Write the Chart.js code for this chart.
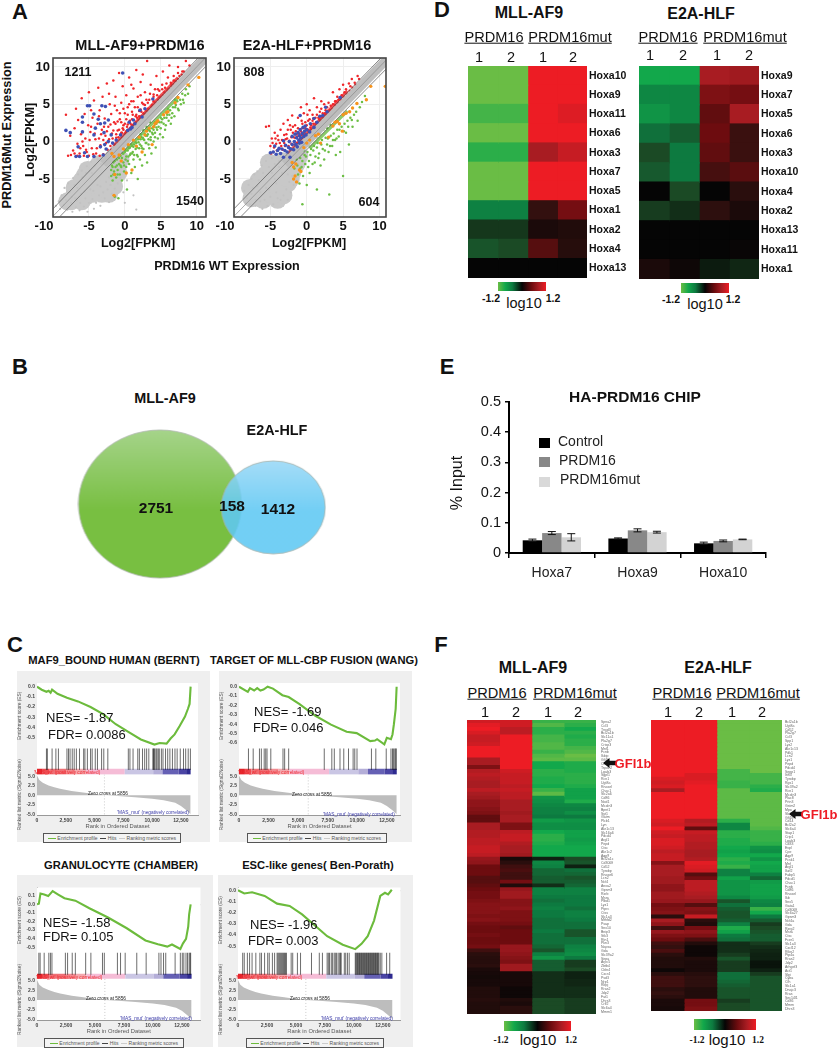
<!DOCTYPE html>
<html>
<head>
<meta charset="utf-8">
<script src="https://cdn.jsdelivr.net/npm/chart.js@4"></script>
<style>
html,body{margin:0;padding:0;background:#fff}
body{position:relative;width:839px;height:1050px;overflow:hidden;font-family:"Liberation Sans",Arial,sans-serif;color:#111}
canvas{position:absolute;display:block}
</style>
</head>
<body>
<script>
// ---- panel A, values as [wt, mut] log2 pairs
const volcanoTicksX = [-10,-5,0,5,10];
const volcanoTicksY = [-5,0,5,10];
const diagonal = [[-10,-10],[11.2,11.2]];
const upperGuide = [[-10,-9],[10.2,11.2]];
const lowerGuide = [[-9,-10],[11.2,10]];
const denseBand = [[-3,-3],[11.2,11.2]];
const a1RedEdge = [[-1.6,-0.6],[7.4,8.6]];
const a1GreenEdge = [[0,-1.3],[7.4,5.9]];
const a2RedEdge = [[-2.6,-1.6],[5.6,6.8]];
const a2GreenEdge = [[0.4,-0.9],[5.6,4.1]];

const a1Core = [[-7,-7],[-5.8,-6.2],[-5,-5],[-4,-5],[-3.8,-3.8],[-3,-4.4],[-2.8,-3],[-2,-3.2],[-1.6,-2.2],[-7.5,-8],[-7,-6.2],[-6.5,-7.5],[-6,-5.2],[-5.5,-7.4],[-5,-6.5],[-4.5,-7],[-4.5,-3.8],[-3.5,-5.8],[-3,-2.9],[-2.5,-6],[-2.5,-4.2],[-1.5,-4.6],[-1.2,-3.2],[-0.6,-2.4],[-8,-8],[-1.5,-6],[-6,-8],[-4,-6.2],[-3.2,-7],[-5.2,-3.8],[-6.4,-6.4],[-4.6,-5.8],[-2,-5],[-3.6,-3],[-5.6,-4.6],[-0.9,-4.2],[-2.2,-7]];
const a1Gray = [[-9.6,-8.6],[-9.2,-8],[-9,-9],[-8.8,-7.2],[-8.5,-8.5],[-8.4,-6.2],[-8.2,-7.8],[-8,-9.1],[-7.9,-5.6],[-7.7,-6.8],[-7.5,-8.2],[-7.3,-9.4],[-7.2,-4.9],[-7,-5.8],[-6.8,-8.8],[-6.7,-7.9],[-6.5,-4.4],[-6.3,-9.2],[-6.2,-8.2],[-6,-3.9],[-5.9,-4.8],[-5.7,-8.7],[-5.5,-7.6],[-5.3,-3.3],[-5.2,-9.4],[-5,-8.2],[-4.9,-3.9],[-4.7,-2.7],[-4.5,-7.7],[-4.3,-9],[-4.2,-3.2],[-4,-8.2],[-3.8,-2.4],[-3.6,-7.2],[-3.4,-8.6],[-3.2,-2.6],[-3,-6.8],[-2.8,-7.6],[-2.6,-2.2],[-2.4,-6.4],[-2.2,-8.1],[-2,-5.8],[-1.8,-7],[-1.6,-5],[-1.4,-6.3],[-1.2,-4.4],[-1,-5.6],[-0.8,-3.8],[-0.6,-4.9],[-0.4,-3.2],[-0.2,-6.8],[0,-8.2],[0.3,-5.2],[1.2,-7.2],[1.6,-9.1],[-8,-6.8],[-6.6,-6.2],[-6.1,-7],[-5.6,-6.7],[-4.8,-6.4],[-4.4,-6.6],[-3.8,-5.8],[-3.4,-6],[-2.6,-5.4],[-2.2,-4.8],[-1.5,-3.8],[-1,-3],[-7.4,-7.4],[-6.9,-7.6],[-5.4,-4.2],[-4.6,-4.2],[-3.3,-3],[-2.4,-2.6],[-1.2,-2.4]];
const a1Red = [[-8.2,3.6],[-7.6,0.8],[-7.2,-1.2],[-7,1.8],[-6.8,4.4],[-6.6,-0.3],[-6.5,2.9],[-6.3,-1.6],[-6.1,1],[-6,5.8],[-5.8,-0.6],[-5.6,3.7],[-5.5,0.4],[-5.3,-1.4],[-5.1,2.2],[-5,6.6],[-4.8,1.3],[-4.6,-0.9],[-4.5,3.2],[-4.3,5.5],[-4.1,0.3],[-4,-1.6],[-3.8,2.4],[-3.7,7.2],[-3.5,4.2],[-3.4,-0.5],[-3.2,1.6],[-3.1,6],[-3,-1.7],[-2.8,3.1],[-2.7,0.8],[-2.5,7.8],[-2.4,-1.1],[-2.3,2],[-2.1,5],[-2,-0.6],[-1.9,3.7],[-1.8,1.1],[-1.7,-1.4],[-1.6,8.2],[-1.5,2.6],[-1.4,-0.4],[-1.3,6],[-1.2,0.5],[-1.1,4.2],[-1,1.5],[-0.9,-0.7],[-0.8,9.2],[-0.7,3],[-0.6,0.2],[-0.5,5.2],[-0.4,1.2],[-0.3,7.4],[-0.2,2.2],[-0.1,0.5],[0,3.8],[0.1,1.2],[0.2,6.2],[0.3,2],[0.4,4.6],[0.5,1.5],[0.6,8.6],[0.7,2.8],[0.8,1.8],[0.9,5.4],[1,2.2],[1.1,3.6],[1.2,7.1],[1.3,2.4],[1.4,4.6],[1.5,2.6],[1.6,9.6],[1.7,3.2],[1.8,6],[1.9,2.9],[2,4.1],[2.1,3.2],[2.2,8],[2.3,3.4],[2.4,5.2],[2.6,3.8],[2.8,6.6],[3,4.1],[3.1,10.8],[3.2,5.2],[3.4,4.4],[3.6,7.6],[3.8,4.9],[4,6],[4.2,5.2],[4.4,8.8],[4.6,5.6],[4.8,6.8],[5,6],[5.3,9.4],[5.5,6.6],[5.8,7.8],[6,7],[6.2,10.2],[6.5,7.6],[6.8,8.8],[7,8.1],[7.4,10],[7.6,8.8],[8,9.4],[8.5,10.8],[9,10.2],[-1.9,-1.1],[-1.5,-0.9],[-1.2,-0.8],[-0.9,-0.2],[-0.6,-0.1],[-0.4,0.5],[-0.1,0.6],[0.2,1],[0.5,1.2],[0.8,1.5],[1.1,1.8],[1.4,2.2],[1.7,2.5],[2,2.8],[2.3,3],[2.6,3.3],[2.9,3.7],[3.2,4],[3.5,4.2],[3.8,4.6],[4.1,4.9],[4.4,5.2],[4.7,5.5],[5,5.8],[5.3,6.2],[5.6,6.5],[5.9,6.8],[6.2,7.1],[6.5,7.4],[6.8,7.7],[7.1,8.1],[7.4,8.4],[-0.2,1.6],[0.4,2.3],[1,3],[1.6,3.6],[2.2,4.3],[2.8,4.9],[3.4,5.6],[4,6.3],[4.6,7],[5.2,7.6],[-7.9,-1.9],[-7.5,-1.8],[-7,-1.6],[-6.6,-1.9],[-6.2,-0.9],[-5.9,0],[-5.7,-1.9],[-5.4,-1.1],[-5,-1.9],[-4.9,0.2],[-4.7,2],[-4.4,-1.7],[-4.2,1.1],[-3.9,-0.9],[-3.6,0.4],[-3.5,-1.9],[-3.3,1],[-3,0.2],[-2.9,2],[-2.6,-0.2],[-2.5,1.4],[-2.2,0.3],[-2.1,-1.6],[-2,2.3],[-1.9,-1.8],[-1.7,0.4],[-1.6,1.5],[-1.4,-1.6],[-1.3,2.4],[-1.2,1],[-1,2.7],[-1,-0.6],[-0.9,0.6],[-0.8,1.6],[-0.7,3.8],[-0.5,1.2],[-0.5,2.6],[-0.3,0],[-0.3,1.8],[-0.2,4.4],[0,2.4],[0,1],[0.2,3],[0.2,1.4],[0.4,3.6],[0.6,1.5],[0.6,5],[0.8,2.4],[1,4],[1.2,2.1],[1.2,5.4],[1.5,3.4],[1.6,2.2],[1.8,4.6],[2,3.4],[2.2,6.2],[2.3,4],[2.6,5],[2.8,3.6],[3,5.6],[3.2,4.4],[3.5,6.4],[3.7,4.7],[4,5.4],[4.2,7],[4.5,6.2],[4.8,5.9],[5.2,7],[5.6,7.2],[6,8.6],[6.4,7.9],[6.8,8.2],[7.4,9.2],[7.9,9],[8.2,9.4],[2.5,9],[-1.4,4.8],[-2.2,6.4],[-3.6,3.4],[-4.7,4.2],[0.9,7.6]];
const a1Blue = [[-0.3,9.2],[-5.2,4.8],[-4.9,4.8],[-8.2,1.5],[-7.6,1.2],[-5.9,3.3],[-5.9,2.6],[-3.2,4.8],[-2.7,4.7],[-3.7,3],[-4.3,3.7],[-5.9,1.3],[-4.3,0.9],[-4.1,1.8],[-3.4,2.4],[-2.8,2.5],[-2.3,2.9],[-6.5,-0.7],[-6.8,-2],[-6.3,-2],[-5.6,-1.5],[-4.3,-2],[-3,-1.8],[-2.8,-0.4],[-2.3,0],[-1.9,0.9],[-1.2,0.2],[-2.6,-1],[-1.7,-0.2],[0.6,2.6],[1.2,2.9],[2.1,4.2],[2.8,4.4],[3.9,5.7],[0.4,1.5],[0.8,1.7],[1,1.9],[1.4,2.4],[-0.6,0.9],[-3.4,-0.7],[-2.9,1.2],[-5.2,-2],[2.4,3.3]];
const a1Green = [[-1.9,-3.8],[-1.9,-4.6],[-1.8,-3.2],[-1.7,-5.2],[-1.6,-2.8],[-1.5,-4],[-1.4,-7.4],[-1.3,-3.4],[-1.2,-4.8],[-1.1,-2.4],[-1,-3.8],[-0.9,-7.6],[-0.8,-3],[-0.7,-4.4],[-0.6,-1.9],[-0.5,-3.4],[-0.4,-5.2],[-0.3,-1.6],[-0.2,-2.8],[-0.1,-4],[0,-1.4],[0.1,-2.4],[0.2,-3.4],[0.3,-6.4],[0.4,-1.2],[0.5,-2],[0.6,-3],[0.7,-0.8],[0.8,-1.6],[0.9,-4.2],[1,-0.6],[1.1,-1.4],[1.2,-2.4],[1.3,-0.4],[1.4,-3.4],[1.5,-1],[1.6,-0.2],[1.7,-1.8],[1.8,-5],[1.9,-0.1],[2,-0.9],[2.1,-2.4],[2.2,0.3],[2.3,-0.6],[2.4,-3.2],[2.5,0.5],[2.6,-1],[2.7,0.2],[2.8,-1.8],[2.9,0.8],[3,-0.2],[3.1,-2.8],[3.2,1],[3.3,0.3],[3.4,-0.9],[3.5,1.4],[3.6,0.6],[3.7,-1.6],[3.8,1.8],[3.9,1],[4,0],[4.1,2.1],[4.2,1.2],[4.3,-0.8],[4.4,2.4],[4.5,1.6],[4.6,0.4],[4.8,2.6],[5,1.8],[5.2,3],[5.3,0.6],[5.5,3.2],[5.7,2.2],[5.9,3.6],[6.1,2.8],[6.3,4.2],[6.5,3.2],[6.7,4.6],[6.9,3.4],[7.1,4.9],[7.3,5.4],[7.5,4.2],[7.7,5.6],[8,6.4],[8.2,5.2],[8.5,7],[8.8,6.4],[-0.5,-0.8],[0,-0.3],[0.5,0.1],[1,0.5],[1.5,1],[2,1.4],[2.5,1.6],[3,2],[3.5,2.6],[-1.7,-3.4],[-1.6,-4.4],[-1.4,-2.6],[-1.1,-3.2],[-1,-4.4],[-0.8,-2.2],[-0.6,-3.2],[-0.4,-2.2],[-0.2,-1.6],[-0.1,-3.2],[0.1,-1.2],[0.2,-2],[0.4,-2.6],[0.6,-0.9],[0.7,-1.8],[0.9,-0.4],[1,-1.6],[1.2,-0.7],[1.3,-1.8],[1.5,-0.1],[1.7,-0.8],[1.8,-2],[1.9,0.3],[2.1,-0.4],[2.3,0.6],[2.4,-0.9],[2.6,0.3],[2.8,1],[2.9,-0.2],[3.1,0.8],[3.3,-0.4],[3.4,1.6],[3.6,0.2],[3.8,1.2],[4,1.6],[4.2,0.6],[4.4,1.9],[4.7,2],[4.9,1],[5.1,2.6],[5.4,2.4],[5.6,1.6],[5.8,3.2],[6.2,3.6],[6.4,2.4],[6.6,3.8],[7,4.6],[7.4,4.4],[7.8,5],[8.1,5.6],[8.4,6.2],[9,7.4],[0.3,-0.5],[1.2,0.2],[2.2,1],[3.2,1.6],[4.2,2.6],[5,3.2],[6,4.4],[7,5.6]];
const a1Orange = [[-1.8,-1.6],[-1.4,-4.4],[-1.5,-2],[-0.8,-1.8],[-0.5,-2.6],[-0.2,-1],[0.2,-4.2],[0.5,-0.4],[1,-3.8],[1.2,0.2],[1.6,-0.6],[2,0.6],[2.4,-1.4],[2.8,0.9],[3,1.4],[3.4,1.8],[3.8,-0.4],[4,2],[4.2,2.4],[4.4,2.6],[4.6,2.8],[5.4,3.6],[5.8,3.9],[6,4],[7,5.2],[7.4,5.9],[8.8,7.6],[10.3,8.6],[-1.5,-7.2]];

const a2Core = [[-7,-7],[-6,-6.4],[-5,-5.4],[-4.2,-4.2],[-3.6,-5],[-3,-3.6],[-2.4,-3],[-1.8,-2.4],[-3.2,-6],[-5.4,-6.8],[-7.6,-7.6],[-6.6,-5.2],[-6,-7.8],[-5,-7],[-4.6,-3],[-4,-6.4],[-3.4,-2.6],[-2.6,-5.6],[-2,-4.2],[-1.4,-3],[-1,-1.9],[-7.8,-6.2],[-4,-7.8],[-5.6,-4.4],[-4.4,-5.8],[-3,-4.8],[-6.6,-6.2],[-4.8,-3.8],[-2.2,-5],[-3.2,-7.2],[-5.2,-2.8]];
const a2Gray = [[-8.6,-6.6],[-8.2,-7.6],[-8,-5.8],[-7.8,-8.4],[-7.6,-5],[-7.4,-6.2],[-7.2,-4.4],[-7,-8.6],[-6.8,-4],[-6.6,-5.2],[-6.4,-8],[-6.2,-3.2],[-6.1,-9],[-6,-4.2],[-5.8,-7.8],[-5.6,-2.6],[-5.4,-8.6],[-5.2,-3.4],[-5,-7.4],[-4.8,-2.2],[-4.6,-8.4],[-4.4,-3],[-4.2,-6.8],[-4,-7.6],[-3.8,-2.6],[-3.6,-7.8],[-3.4,-2.4],[-3.2,-7.2],[-3,-2],[-2.8,-6.4],[-2.6,-7.8],[-2.4,-5.4],[-2.2,-6.8],[-2,-4.6],[-1.8,-5.8],[-1.6,-3.6],[-1.4,-5],[-1.2,-3],[-1,-4.2],[-9.2,-1],[-7,-7.8],[-6.4,-6.8],[-5.6,-6.2],[-4.8,-4.2],[-4.2,-5.6],[-3.4,-4.2],[-2.6,-4.4],[-2,-3.2],[-1.4,-2.4],[-8.4,-8.2],[-7.6,-7],[-6.8,-6],[-5.2,-6.4],[-4.4,-5],[-3.8,-3.4],[-2.8,-2.8]];
const a2Red = [[-5.6,2],[-5.2,2.1],[-5,-0.6],[-4.8,0.4],[-4.6,-1.4],[-4.4,1.2],[-4.2,-0.3],[-4,0.8],[-3.8,-1],[-3.6,1.6],[-3.4,0.2],[-3.2,2.4],[-3,-0.6],[-2.8,1],[-2.6,2.9],[-2.4,0.1],[-2.2,1.6],[-2,3.5],[-1.8,0.6],[-1.6,2.2],[-1.4,-0.2],[-1.2,3.2],[-1,1.1],[-0.8,4.6],[-0.6,1.8],[-0.4,3.8],[-0.2,2.6],[0,5],[0.2,2.8],[0.4,4.2],[0.6,2.2],[0.8,3.6],[1,5.8],[1.2,3.2],[1.4,4.6],[1.6,3.2],[1.8,4],[2,5.4],[2.2,3.8],[2.4,5],[2.6,4.2],[3,5.2],[3.3,4.8],[3.6,6.6],[3.9,5.4],[4.2,6],[4.5,7],[4.8,6.2],[5,7.6],[5.4,7],[5.8,7.8],[6.2,8.4],[6.6,7.9],[7,8.8],[-4.9,-1.6],[-4.5,-0.8],[-4.1,-1.2],[-3.7,-0.2],[-3.3,-1.1],[-2.9,0.3],[-2.5,-0.6],[-2.1,-0.3],[-1.9,1.2],[-1.7,-0.4],[-1.3,0.7],[-1.1,-0.1],[-0.9,0.4],[-0.7,0.9],[-0.5,0.4],[-0.3,1.2],[-0.1,0.9],[0.1,1.5],[0.3,1.2],[0.5,1.9],[0.7,1.6],[0.9,2.4],[1.1,2],[1.3,2.6],[1.5,2.4],[1.7,3],[1.9,2.8],[2.1,3.3],[2.3,3.2],[2.5,3.8],[2.7,3.6],[2.9,4.1],[3.1,4],[3.5,4.4],[3.9,4.9],[4.3,5.2],[4.7,5.6],[5.1,6],[5.5,6.4],[5.9,6.8],[6.3,7.2],[6.7,7.6],[-3.9,0.2],[-3.1,0.9],[-2.3,2.2],[-1.5,1.4],[-0.7,2.8],[0.1,3.6],[0.9,3.1],[-4.7,-0.2],[-4.3,0.4],[-3.5,-0.6],[-3.1,-0.2],[-2.7,0.4],[-2.6,1.6],[-2.3,-0.9],[-2.1,0.6],[-1.9,2],[-1.6,0.5],[-1.4,1],[-1.2,1.8],[-1,0.1],[-0.8,1.4],[-0.6,2.4],[-0.4,0.9],[-0.2,1.8],[0,2.2],[0.2,1.6],[0.4,3],[0.6,1.6],[0.8,2.8],[1.2,2.4],[1.4,3.6],[1.8,3],[2,4.4],[2.4,3.6],[2.8,4.6],[3.2,4.2],[3.6,5],[4,5.4],[4.4,5.6],[5.2,6.6],[6,7.4],[7.2,8.4]];
const a2Blue = [[-5,-1.5],[-4.6,-1.4],[-4.2,-1.7],[-4,-1.2],[-3.8,-0.9],[-3.6,-1.6],[-3.4,-1],[-3.2,-2.1],[-3,-1.2],[-2.9,-0.5],[-2.7,-1.4],[-2.5,-0.8],[-2.4,0],[-2.2,-1],[-2,-0.4],[-2,0.7],[-1.8,-1.1],[-1.7,0],[-1.6,1],[-1.5,-0.4],[-1.4,0.5],[-1.3,-0.7],[-1.2,1.2],[-1.1,0.2],[-1,-0.2],[-1,0.8],[-0.9,1.6],[-0.8,0.5],[-0.7,-0.1],[-0.6,1.1],[-0.5,1.9],[-0.4,0.7],[-0.3,1.4],[-0.2,2.1],[-0.1,0.9],[0,1.6],[0.4,1.3],[0.5,2.4],[1,1.9],[1,3.1],[1.4,2.6],[1.8,3.4],[2.2,3.5],[2.6,4.6],[2.8,4],[-0.9,3.5],[4.6,5.9],[-4.4,-0.6],[-3.2,0.1],[-2.3,-2.1]];
const a2Green = [[-1.7,-3.6],[-1.4,-2.4],[-1.2,-4.4],[-1,-5.6],[-0.9,-2.2],[-0.7,-3.4],[-0.6,-8.4],[-0.5,-4.6],[-0.3,-1.8],[-0.2,-3],[0,-5.8],[0.1,-1.4],[0.3,-2.6],[0.4,-4.2],[0.6,-1],[0.8,-3],[1,-0.6],[1.2,-2],[1.4,-6.4],[1.5,-0.2],[1.7,-1.6],[1.9,-3.2],[2.1,0.2],[2.2,-1],[2.4,-2.4],[2.6,0.5],[2.8,-0.4],[3,-1.4],[3.1,-7.1],[3.3,0.8],[3.5,-0.6],[3.7,1.1],[3.9,0.2],[4,-1.8],[4.2,1.6],[4.4,0.7],[4.6,-1.4],[4.8,2],[5,-4.6],[5.2,2.4],[5.4,1.2],[5.6,2.8],[5.8,-0.4],[6,3.2],[6.3,2],[6.5,3.6],[6.8,4],[7,2.8],[7.3,4.6],[7.6,5.3],[8,6.1],[-0.8,-1.4],[-0.4,-1.2],[0.2,-0.5],[0.7,0.1],[1.3,0.6],[1.8,1.1],[2.3,1.6],[2.8,1.8],[3.2,2.3],[-1.3,-3.2],[-0.9,-3.6],[-0.6,-2.6],[-0.1,-2],[0.2,-3.4],[0.5,-1.8],[0.9,-1.2],[1.1,-2.8],[1.4,-0.8],[1.6,-2.2],[2,-0.4],[2.5,-1.2],[2.9,0.4],[3.2,-0.6],[3.6,0.2],[4.1,0.4],[4.5,1.6],[5.1,1.4],[5.7,2],[6.2,2.9]];
const a2Orange = [[-2,-2.8],[-1.8,-3.4],[-1.6,-4.6],[-1.5,-3],[-1.8,-5],[-1.4,-5.4],[-1,-3.8],[-0.8,-4],[-0.4,-0.8],[0,-0.2],[0.4,0.2],[1.2,0.8],[1.6,1],[1.9,-0.2],[3,0.6],[3.6,2.1],[3.9,2.6],[4.2,2.7],[4.5,2.4],[4.9,1.4],[5,3.6],[5.4,3.8],[5.9,4],[6.3,4.5],[6.9,5.1],[8.2,5.6],[8.8,7.4],[10.8,7.4]];

// ---- panel B
const vennNames = ['MLL-AF9','E2A-HLF'];
const vennX = [158.5,276];
const vennY = [504,507.5];

// ---- panel C, GSEA running scores
const rankTicksX = [0,2500,5000,7500,10000,12500];
const rankTicksY = [-5,-2.5,0,2.5,5];
const rankBreaks = [0,500,1050,2550,3350,4260,7620,10090,10900,12300,12950,13340];
const stripColors = ['#e3242b','#ed4a50','#ef6f75','#f28a90','#f4a7ad','#f5bcd6','#cac6e4','#b4aed8','#6560b4','#4a44a4','#2e2a90'];
const rankX = [0,200,500,1000,1500,2000,3000,4000,5000,5856,7000,8500,10000,11000,12000,12500,13000,13340];
const rankY = [5.2,4,3.3,2.6,2.1,1.7,1.15,0.7,0.3,0,-0.2,-0.5,-0.9,-1.3,-2,-2.8,-4,-5];

const es1Ticks = [0,-0.1,-0.2,-0.3,-0.4,-0.5];
const es1X = [0,410,820,1010,1180,1310,1780,2600,3560,4650,5740,6840,7930,9020,10200,10650,11250,11600,11950,12400,12850,13100,13250,13340];
const es1Y = [0,-0.03,-0.05,-0.04,-0.06,-0.03,-0.07,-0.11,-0.145,-0.2,-0.27,-0.37,-0.445,-0.52,-0.57,-0.555,-0.56,-0.51,-0.47,-0.385,-0.295,-0.22,-0.17,0];
const hits1 = [820,900,1310,1640,1860,2600,2735,2870,3060,3230,3420,3690,4050,4160,4375,4650,4790,5060,5250,5610,5800,6150,7930,8070,8340,8750,8890,9160,9350,9520,9710,10060,10120,10170,10230,10340,10420,10530,10620,10800,10940,11160,11350,11540,11760,11980,12170,12440,12720,12910,13130,13320];

const es2Ticks = [0,-0.1,-0.2,-0.3,-0.4,-0.5,-0.6];
const es2X = [0,745,930,1280,1540,1810,2070,2420,2870,3670,4200,5120,6460,7780,9100,9950,11100,11500,11680,12290,12500,12850,12980,13100,13250,13330];
const es2Y = [0,-0.055,-0.015,-0.04,-0.015,-0.04,-0.03,0,-0.02,-0.09,-0.11,-0.186,-0.31,-0.405,-0.48,-0.495,-0.58,-0.575,-0.56,-0.615,-0.545,-0.56,-0.51,-0.4,-0.235,0];
const hits2 = [800,1200,1730,1890,2130,2260,2370,2690,3720,3860,4200,7210,7850,8060,8540,8860,9260,9650,9790,9980,11200,11570,12450,12850,12980,13060,13170,13250,13300];

const es3Ticks = [0.1,0,-0.1,-0.2,-0.3,-0.4,-0.5];
const es3X = [0,160,300,620,970,1350,1830,2370,3310,4520,6130,7750,9360,10440,11240,11650,12370,12590,12860,13050,13130,13260];
const es3Y = [0,0.007,0.125,0.114,0.096,0.154,0.114,0.071,0.043,-0.046,-0.154,-0.279,-0.421,-0.464,-0.493,-0.468,-0.52,-0.457,-0.403,-0.261,-0.118,0];
const hits3 = [160,270,620,1020,1160,1290,2450,2640,3040,3310,4200,4650,5650,5810,6940,7210,7610,8610,9420,10520,10700,10920,11110,11920,12370,12540,12670,12860,12990,13130,13210,13260];

const es4Ticks = [0,-0.1,-0.2,-0.3,-0.4,-0.5];
const es4X = [0,540,1215,2300,3375,4455,5535,6615,7700,9045,10125,10665,11200,11745,12285,12690,12960,13280];
const es4Y = [0,-0.028,-0.017,-0.05,-0.119,-0.14,-0.215,-0.312,-0.41,-0.486,-0.525,-0.478,-0.409,-0.27,-0.05,-0.022,-0.036,0.005];
const hits4 = [405,540,810,1000,1215,1540,1890,2025,2295,2565,2700,2970,3160,3375,3455,3540,3620,3700,3780,3860,3940,4020,4100,4185,4590,4725,5130,5400,6345,7020,7290,7695,7800,7900,8050,8150,8300,8400,8500,8640,8750,8850,8910,9180,9300,9450,9600,10125,10180,10250,10310,10370,10430,10490,10550,10610,10670,10730,10790,10850,10910,10970,11030,11090,11150,11210,11270,11330,11390,11450,11510,11570,11630,11690,11750,11810,11870,11930,11990,12050,12110,12170,12285,12420,12830,13100];

// ---- panel D, log10 expression, columns PRDM16 1,2 PRDM16mut 1,2
const d1Genes = ['Hoxa10','Hoxa9','Hoxa11','Hoxa6','Hoxa3','Hoxa7','Hoxa5','Hoxa1','Hoxa2','Hoxa4','Hoxa13'];
const d1A = [-1.2,-1.2,-1.05,-1.2,-0.95,-1.2,-1.2,-0.55,-0.18,-0.3,0];
const d1B = [-1.2,-1.2,-1.05,-1.2,-0.95,-1.2,-1.2,-0.55,-0.18,-0.25,0];
const d1C = [1.2,1.2,1.2,1.2,0.85,1.2,1.2,0.25,0.12,0.4,0];
const d1D = [1.2,1.2,1.12,1.2,1,1.2,1.2,0.55,0.15,0.18,0];

const d2Genes = ['Hoxa9','Hoxa7','Hoxa5','Hoxa6','Hoxa3','Hoxa10','Hoxa4','Hoxa2','Hoxa13','Hoxa11','Hoxa1'];
const d2A = [-0.85,-0.6,-0.7,-0.45,-0.25,-0.33,0,-0.2,0,0,0.12];
const d2B = [-0.85,-0.6,-0.6,-0.35,-0.5,-0.5,-0.25,-0.15,0,0,0.05];
const d2C = [0.85,0.6,0.45,0.5,0.45,0.33,0,0.22,0,0,-0.08];
const d2D = [0.8,0.55,0.85,0.28,0.28,0.42,0.2,0.12,0,0.02,-0.12];

// ---- panel E
const chipGenes = ['Hoxa7','Hoxa9','Hoxa10'];
const chipTicks = [0,0.1,0.2,0.3,0.4,0.5];
const chipControl = [0.042,0.048,0.032];
const chipWt = [0.066,0.075,0.04];
const chipMut = [0.052,0.069,0.045];
const chipControlErr = [0.004,0.002,0.004];
const chipWtErr = [0.005,0.005,0.003];
const chipMutErr = [0.012,0.003,0.001];

// ---- panel F
const f1Genes = ['Spna2','Ccl3','Tnxd3','Bcl2a1b','Slc11a1','Pla2g7','Crisp3','Mnf1','Fcnb','Ikbip','Gfi1b','Ccr2','Tspan2','Lgals3','Sgpl1','Rcn1','Ugt8a','Rnasel','Chac1','Slc2a6','Cd86','Nod1','Mcoln3','Bpnt1','Syt1','Gatm','Plcb1','Lyn','Akr1c13','Slc16a6','Pdcd4','Argl1','Pepd','Ctsc','Akr1c2','Aqp9','Bcl2a1c','Cd300lf','Cd52','Tyrobp','Rnase6','Lcn2','Ncf4','Anxa2','Gpsm3','Rxrb','Msra','Plbd1','Lyz1','Ptprc','Ctss','Slc1a3','Mthfd2','Psap','Snx10','Bnip3','Stk3','Rtn1','Pkn3','Napsa','Gda','Slc39a2','Sirpa','Arpc5','Zbtb4','Cbln4','Cxcr4','Psd3','Nrp1','Rbpj','Rras2','Jdp2','Fut1','Dhrs3','Crlf2','Slc6a4','Mmrn1'];
const f2Genes = ['Bcl2a1b','Ugt8a','Cd52','Pla2g7','Ccl3','Spp1','Lyz2','Akr1c13','Pdk1','Lcn2','Lyz1','Pepd','Pdcd4','Sepp1','Itih3','Tyrobp','Rgs1','Slc39a2','Rcn1','Mcoln3','Plac8','Prtn3','Gstm2','Mpo','Slc7a8','Gfi1b','Cd14','Bcl2a2','Slc6a4','Stap1','Crip1','Lgals3','Cd33','Evpl','Cpe','Aqp9','Pcsk1','Mnf','Argl1','Ikzf2','Fabp5','Pdcd1','Chac1','Fcnb','Cd86','Rnasel','Ikb','Snx5','Gata1','Cd300lf','Slc6a27','Gpsm3','Ncf4a','Gda','Rxrg2','Msra','Ctsc','Fcer1','Slc1a3','Cxcl12','Rtkn2','Ptp4a','Rras2','Jdp2','Arhgef3','Act1','Slpi','Cyba','Cfh','Slc1a1','Dnajc3','Rras','Sec14l1','Cd36','Mmrn','Dhrs3'];
const f1A = [1.05,1.15,1.2,1.1,1,1,1.05,1.2,1.2,1.2,0.85,0.85,0.6,0.9,0.95,0.9,0.85,0.85,0.95,0.85,0.8,0.7,0.7,0.65,0.6,0.45,0.45,0.85,0.85,0.9,0.9,0.95,0.95,1,1,0.95,0.75,0.7,0.5,0.5,0.5,0.4,0.4,0.45,0.5,0.55,0.55,0.6,0.65,0.65,0.65,0.6,0.65,0.55,0.5,0.5,0.55,0.5,0.5,0.55,0.3,0.2,0.18,0.18,0.2,0.12,0.1,0.08,0.1,0.1,0.15,0.15,0.15,0.18,0.15,0.15,0.15];
const f1B = [1.05,1.05,0.95,0.95,1.2,1.2,1.2,1.2,1.2,1.2,1.2,1.2,1.2,1.05,1,1,1,0.95,1,0.95,0.95,0.85,0.85,0.85,0.8,0.85,0.85,0.6,0.6,0.95,1,1,0.9,0.85,0.85,0.8,0.1,0.2,0.3,0.35,0.3,0.3,0.55,0.15,0.75,0.8,0.8,0.65,0.65,0.7,0.6,0.6,0.6,0.55,0.45,0.5,0.5,0.5,0.5,0.75,0.75,0.7,0.65,0.6,0.8,0.8,0.1,0.1,0.1,0.1,0.05,0.05,0.05,0.15,0.12,0.2,0.2];
const f1C = [-1,-1.1,-0.95,-0.95,-1.05,-1.05,-1.1,-1.1,-1,-1.1,-1.15,-0.85,-0.85,-0.95,-0.95,-0.9,-0.9,-0.85,-1,-1.15,-0.7,-0.65,-0.6,-0.55,-0.55,-0.5,-0.75,-0.65,-0.65,-0.85,-0.95,-0.95,-0.9,-0.85,-0.85,-0.85,-0.1,-0.6,-0.55,-0.4,-0.4,-0.35,-0.35,-0.15,-0.55,-0.55,-0.5,-0.45,-0.5,-0.55,-0.5,-0.5,-0.45,-0.45,-0.45,-0.5,-0.45,-0.45,-0.45,-0.4,-0.3,-0.55,-0.7,-0.35,-0.35,-0.35,-0.15,-0.15,-0.15,-0.15,-0.15,-0.15,-0.15,-0.25,-0.25,-0.25,-0.25];
const f1D = [-1,-0.95,-0.85,-0.95,-0.9,-0.95,-0.95,-1.05,-1.1,-1.2,-1.15,-0.9,-0.9,-0.9,-0.95,-0.95,-0.95,-0.9,-0.8,-0.8,-0.8,-0.9,-0.6,-0.55,-0.65,-0.5,-0.7,-0.65,-0.65,-0.8,-0.8,-0.75,-0.8,-0.85,-0.85,-0.85,-0.25,-0.3,-0.1,-0.45,-0.4,-0.3,-0.35,-0.4,-0.55,-0.55,-0.5,-0.5,-0.5,-0.45,-0.55,-0.55,-0.5,-0.45,-0.45,-0.3,-0.3,-0.45,-0.45,-0.55,-0.6,-0.65,-0.5,-0.2,-0.2,-0.25,-0.1,-0.1,-0.12,-0.12,-0.15,-0.15,-0.15,-0.2,-0.2,-0.2,-0.2];

const f2A = [1.2,1.2,1.2,1.2,1.2,1.2,1.2,1.2,1.2,1.2,1.2,1.2,1.2,1.2,1.2,1.1,1.05,1.1,0.85,1.2,1.2,1.2,1.2,1.2,1.2,1.2,1.1,1.05,1.2,1.05,1,1.1,1.1,1.05,0.95,1,1,0.65,0.85,0.85,0.85,0.8,0.8,0.7,0.7,0.8,0.8,0.75,0.55,0.6,0.65,0.2,0.85,0.7,0.3,0.75,0.6,0.5,0.3,0.25,0.35,0.2,0.15,0.15,0.15,0.05,0.2,0.3,0.3,0.3,0.2,0.25,0.2,0.12,0.12,0.1];
const f2B = [1.2,1.2,1.2,1.2,1.2,1.2,1.2,1.2,1.2,1.2,1.2,1.2,1.2,1.2,1.1,1.1,1.15,1.2,1.2,1.2,1.2,1.2,1.2,1.2,1.2,1.2,0.9,0.95,0.45,1,0.95,0.95,0.9,0.9,0.85,0.85,0.9,1.15,1.1,1.05,0.4,0.55,0.95,0.95,0.95,0.9,0.85,0.75,0.4,0.65,0.6,1,0.2,0.15,0.55,0.7,0.6,0.35,0.15,0.05,0.05,0.05,0.15,0.12,0.12,0.12,0.18,0.22,0.22,0.22,0.15,0.15,0.15,0.55,0.55,0.6];
const f2C = [-1.2,-1.2,-1.2,-1.2,-1.2,-1.2,-1.2,-1.2,-1.2,-1.2,-1.2,-1.2,-1.2,-1.05,-1.05,-1.05,-1,-1,-1.15,-1.15,-1.15,-1.15,-1.15,-1.15,-1.15,-1.15,-0.95,-0.6,-0.6,-0.95,-0.95,-0.9,-0.9,-0.85,-0.8,-0.85,-0.95,-0.9,-1,-0.55,-0.55,-0.8,-0.7,-0.7,-0.7,-0.7,-0.6,-0.3,-0.45,-0.35,-0.3,-0.3,-0.35,-0.55,-0.9,-0.8,-0.5,-0.45,-0.15,-0.15,-0.15,-0.2,-0.3,-0.2,-0.2,-0.2,-0.45,-0.45,-0.4,-0.35,-0.3,-0.3,-0.3,-0.2,-0.25,-0.25];
const f2D = [-1.2,-1.2,-1.2,-1.2,-1.2,-1.2,-1.2,-1.2,-1.2,-1.2,-1.2,-1.2,-1.2,-1.2,-1.05,-1.05,-1.05,-0.95,-0.9,-1.15,-1.15,-1.15,-1.15,-1.15,-1.15,-1.15,-1.15,-1.15,-1.1,-1,-1,-1,-0.95,-0.7,-0.65,-0.85,-0.7,-0.85,-0.8,-0.8,-0.55,-0.4,-0.75,-0.8,-0.8,-0.8,-0.75,-0.6,-0.55,-1,-0.85,-0.5,-0.35,-0.2,-0.25,-0.3,-0.35,-0.35,-0.2,-0.15,-0.12,-0.1,-0.1,-0.05,-0.05,-0.1,-0.2,-0.3,-0.3,-0.3,-0.3,-0.3,-0.3,-0.3,-0.3,-0.3];

// colour ramp of the heat maps
const rampStops = [[-1.2,[106,189,69]],[-0.85,[18,168,75]],[-0.5,[13,122,64]],[-0.25,[27,74,37]],[0,[5,5,5]],[0.25,[51,16,15]],[0.5,[109,12,15]],[0.85,[168,28,34]],[1.2,[237,28,36]]];
function heatColor(v) {
    for (let i = 1; i < rampStops.length; i++) {
        if (v <= rampStops[i][0]) {
            const a = rampStops[i-1], b = rampStops[i];
            const t = Math.max(0, (v - a[0]) / (b[0] - a[0]));
            return 'rgb(' + a[1].map((c, k) => Math.round(c + (b[1][k] - c) * t)).join(',') + ')';
        }
    }
    return 'rgb(237,28,36)';
}
const rampCss = 'linear-gradient(90deg,rgb(106,189,69),rgb(18,168,75) 15%,rgb(13,122,64) 30%,rgb(5,5,5) 50%,rgb(109,12,15) 70%,rgb(168,28,34) 85%,rgb(237,28,36))';

// ---- helpers
const pts = arr => arr.map(p => ({x: p[0], y: p[1]}));
const zip = (xs, ys) => xs.map((x, i) => ({x: x, y: ys[i]}));

function panel(x, y, w, h, bg) {
    const c = document.createElement('canvas');
    c.width = w; c.height = h;
    c.style.left = x + 'px'; c.style.top = y + 'px';
    c.style.width = w + 'px'; c.style.height = h + 'px';
    if (bg) c.style.background = bg;
    document.body.appendChild(c);
    return c;
}

function txt(s, x, y, css) {
    const d = document.createElement('div');
    d.textContent = s;
    d.style.cssText = 'position:absolute;z-index:5;left:' + x + 'px;top:' + y + 'px;transform:translate(-50%,-50%);white-space:nowrap;line-height:1;' + (css || '');
    document.body.appendChild(d);
    return d;
}
const bold = size => 'font-weight:bold;font-size:' + size + 'px;';
const plain = size => 'font-size:' + size + 'px;';
const vert = 'transform:translate(-50%,-50%) rotate(-90deg);';

function box(x, y, w, h, css) {
    const d = document.createElement('div');
    d.style.cssText = 'position:absolute;z-index:5;left:' + x + 'px;top:' + y + 'px;width:' + w + 'px;height:' + h + 'px;' + css;
    document.body.appendChild(d);
    return d;
}

// fixed axis sizes so the plot areas land where the figure has them
const noPad = s => { s.paddingLeft = s.paddingRight = s.paddingTop = s.paddingBottom = 0; };
const fitW = w => s => { s.width = w; noPad(s); };
const fitH = h => s => { s.height = h; noPad(s); };
const useTicks = list => s => { s.ticks = list.map(v => ({value: v})); };

const framePlugin = {
    id: 'frame',
    beforeDatasetsDraw(chart, args, o) {
        if (!o.fill) return;
        const a = chart.chartArea;
        chart.ctx.fillStyle = o.fill;
        chart.ctx.fillRect(a.left, a.top, a.width, a.height);
    },
    afterDatasetsDraw(chart, args, o) {
        if (!o.color) return;
        const a = chart.chartArea;
        chart.ctx.save();
        chart.ctx.strokeStyle = o.color;
        chart.ctx.lineWidth = o.width || 1;
        chart.ctx.strokeRect(a.left, a.top, a.width, a.height);
        chart.ctx.restore();
    }
};
Chart.register(framePlugin);
Chart.defaults.font.family = '"Liberation Sans", Arial, sans-serif';
Chart.defaults.animation = false;
Chart.defaults.responsive = false;
Chart.defaults.plugins.legend.display = false;
Chart.defaults.plugins.tooltip.enabled = false;

// ---- panel A
function volcano(canvas, leftW, s, xmax) {
    const dot = (data, color, r, order) => ({data: pts(data), backgroundColor: color, borderWidth: 0, pointRadius: r, order: order});
    const guide = (data, color, w, order) => ({data: pts(data), showLine: true, borderColor: color, borderWidth: w, pointRadius: 0, order: order});
    new Chart(canvas, {
        type: 'scatter',
        data: {datasets: [
            guide(diagonal, '#8a8a8a', 0.7, 3),
            guide(upperGuide, '#555', 0.7, 2),
            guide(lowerGuide, '#555', 0.7, 2),
            guide(denseBand, '#bdbdbd', 9, 4),
            guide(s.redEdge, 'rgba(240,38,42,.8)', 3, 5),
            guide(s.greenEdge, 'rgba(108,190,69,.8)', 3, 5),
            dot(s.blue, '#3f51b5', 1.8, 1),
            dot(s.orange, '#f7941d', 1.7, 1),
            dot(s.red, '#f0262a', 1.25, 5),
            dot(s.green, '#6cbe45', 1.25, 5),
            dot(s.gray, '#c2c2c2', 1.1, 6),
            dot(s.core, '#c8c8c8', 9, 7)
        ]},
        options: {
            layout: {padding: {top: 6, right: 3}},
            scales: {
                x: {min: -10, max: xmax, afterFit: fitH(24), afterBuildTicks: useTicks(volcanoTicksX),
                    grid: {color: '#eeeeee', drawTicks: false}, border: {display: false},
                    ticks: {padding: 2, maxRotation: 0, autoSkip: false, color: '#111', font: {size: 13, weight: 'bold'},
                        callback: v => v === -10 ? '-10     ' : v}},
                y: {min: -10.1, max: 11.2, afterFit: fitW(leftW), afterBuildTicks: useTicks(volcanoTicksY),
                    grid: {color: '#eeeeee', drawTicks: false}, border: {display: false},
                    ticks: {padding: 3, autoSkip: false, color: '#111', font: {size: 13, weight: 'bold'}}}
            },
            plugins: {frame: {color: '#444', width: 1.6}}
        }
    });
}
volcano(panel(18, 49, 197, 192), 35, {core: a1Core, gray: a1Gray, red: a1Red, blue: a1Blue, green: a1Green, orange: a1Orange, redEdge: a1RedEdge, greenEdge: a1GreenEdge}, 11.3);
volcano(panel(214, 49, 181, 192), 20, {core: a2Core, gray: a2Gray, red: a2Red, blue: a2Blue, green: a2Green, orange: a2Orange, redEdge: a2RedEdge, greenEdge: a2GreenEdge}, 10.9);

txt('A', 20, 12, bold(22));
txt('MLL-AF9+PRDM16', 140, 45, bold(14.5));
txt('E2A-HLF+PRDM16', 307, 45, bold(14.5));
txt('PRDM16Mut Expression', 7, 135, bold(12.8) + vert);
txt('Log2[FPKM]', 30, 140, bold(12.6) + vert);
txt('Log2[FPKM]', 138, 243, bold(12.6));
txt('Log2[FPKM]', 309, 243, bold(12.6));
txt('PRDM16 WT Expression', 227, 266, bold(12.6));
txt('1211', 78, 72, bold(12.5));
txt('1540', 190, 201, bold(12.5));
txt('808', 254, 72, bold(12.5));
txt('604', 369, 202, bold(12.5));

// ---- panel B
function ellipseStamp(w, h, top, bottom, alpha) {
    const c = document.createElement('canvas');
    c.width = w + 2; c.height = h + 2;
    const g = c.getContext('2d');
    const grad = g.createLinearGradient(0, 0, 0, h);
    grad.addColorStop(0, top); grad.addColorStop(0.55, bottom); grad.addColorStop(1, bottom);
    g.globalAlpha = alpha;
    g.fillStyle = grad;
    g.beginPath();
    g.ellipse(w / 2 + 1, h / 2 + 1, w / 2, h / 2, 0, 0, Math.PI * 2);
    g.fill();
    g.globalAlpha = 1;
    g.strokeStyle = '#a9b3a9';
    g.lineWidth = 0.8;
    g.stroke();
    return c;
}
new Chart(panel(60, 420, 280, 170), {
    type: 'scatter',
    data: {datasets: [
        {data: [{x: vennX[1], y: vennY[1]}], pointStyle: ellipseStamp(104, 93, '#9ad8f6', '#5fc8f3', 0.88), order: 1},
        {data: [{x: vennX[0], y: vennY[0]}], pointStyle: ellipseStamp(163, 148, '#a6d48b', '#78bf41', 1), order: 2}
    ]},
    options: {
        layout: {padding: 0},
        scales: {x: {display: false, min: 60, max: 340}, y: {display: false, min: 420, max: 590, reverse: true}}
    }
});
txt('B', 20, 367, bold(22));
txt(vennNames[0], 165, 398, bold(14.4));
txt(vennNames[1], 277, 430, bold(14.4));
txt('2751', 156, 508, bold(15.5));
txt('158', 232, 506, bold(15.5));
txt('1412', 278, 509, bold(15.5));

// ---- panel C
function gsea(o) {
    const c = panel(o.left, o.top, o.width, o.height, '#efefef');
    const small = {size: 5, weight: 'bold'};
    const strip = [];
    rankBreaks.forEach(x => strip.push({x: x, y: 0.1}));
    new Chart(c, {
        type: 'scatter',
        data: {datasets: [
            {data: zip(o.esX, o.esY), showLine: true, borderColor: '#6cbb3c', borderWidth: 2.1, pointRadius: 0, yAxisID: 'y', order: 1},
            {data: o.hits.map(x => ({x: x, y: 0.6})), yAxisID: 'yHits', pointStyle: 'line', pointRotation: 90, pointRadius: o.hitLen,
                borderColor: 'rgba(20,20,20,.62)', borderWidth: 1, order: 2},
            {data: strip, yAxisID: 'yHits', showLine: true, pointRadius: 0, borderWidth: o.stripH, order: 3,
                borderCapStyle: 'butt',
                segment: {borderColor: s => stripColors[s.p0DataIndex]}},
            {data: zip(rankX, rankY), yAxisID: 'yRank', showLine: true, pointRadius: 0, borderWidth: 0, fill: 'origin', backgroundColor: '#bdbdbd', order: 4},
            {data: [{x: rankX[9], y: 5.5}, {x: rankX[9], y: -5.2}], yAxisID: 'yRank', showLine: true, pointRadius: 0, borderColor: '#aaa', borderWidth: 0.6, borderDash: [1, 2], order: 5}
        ]},
        options: {
            layout: {padding: {top: o.padTop, right: o.padRight, bottom: 12}},
            scales: {
                x: {type: 'linear', min: 0, max: o.xmax, afterFit: fitH(15), afterBuildTicks: useTicks(rankTicksX),
                    grid: {display: false, drawTicks: false}, border: {color: '#999'},
                    ticks: {padding: 3, maxRotation: 0, autoSkip: false, color: '#444', font: small,
                        callback: v => v.toLocaleString('en-US')},
                    title: {display: true, text: 'Rank in Ordered Dataset', padding: 0, color: '#555', font: {size: 5.8}}},
                yRank: {stack: 'g', stackWeight: o.wRank, weight: 1, min: -5.2, max: 5.5, afterFit: fitW(o.axisW), afterBuildTicks: useTicks(rankTicksY),
                    grid: {display: false, drawTicks: false}, border: {color: '#999'},
                    ticks: {padding: 2, color: '#444', font: small, autoSkip: false, callback: v => v.toFixed(1)},
                    title: {display: true, text: 'Ranked list metric (Signal2Noise)', padding: 0, color: '#555', font: {size: 4.8}}},
                yHits: {stack: 'g', stackWeight: o.wHits, weight: 2, min: 0, max: 1, afterFit: fitW(o.axisW),
                    grid: {display: false, drawTicks: false}, border: {color: '#bbb'}, ticks: {display: false}},
                y: {stack: 'g', stackWeight: o.wEs, weight: 3, min: o.esMin, max: o.esMax, afterFit: fitW(o.axisW), afterBuildTicks: useTicks(o.esTicks),
                    grid: {drawTicks: false, color: ctx => ctx.tick.value === 0 ? '#c4c4c4' : 'rgba(0,0,0,0)', lineWidth: 1.2}, border: {color: '#999'},
                    ticks: {padding: 2, color: '#444', font: small, autoSkip: false, callback: v => v.toFixed(1)},
                    title: {display: true, text: 'Enrichment score (ES)', padding: 0, color: '#555', font: {size: 4.8}}}
            },
            plugins: {frame: {fill: '#fff'}}
        }
    });
    const pos = "'MAS_wt' (positively correlated)";
    const neg = "'MAS_mut' (negatively correlated)";
    txt(pos, o.posX, o.posY, 'font-size:4.8px;color:#ee2a30;');
    txt(neg, o.negX, o.negY, 'font-size:4.8px;color:#3a3aa8;');
    txt('Zero cross at 5856', o.zeroX, o.zeroY, 'font-size:4.8px;color:#222;');
    // legend strip under each GSEA plot
    const lg = box(o.lgX, o.lgY, o.lgW, 8, 'border:1px solid #555;background:#f4f4f4;font-size:5px;line-height:8px;color:#555;white-space:nowrap;text-align:center;');
    lg.innerHTML = '<span style="display:inline-block;width:8px;height:1.5px;background:#6cbb3c;vertical-align:middle"></span> Enrichment profile &nbsp;<span style="display:inline-block;width:6px;height:1px;background:#444;vertical-align:middle"></span> Hits &nbsp;<span style="display:inline-block;width:6px;height:1px;background:#ccc;vertical-align:middle"></span> Ranking metric scores';
}

gsea({left: 17, top: 671, width: 193, height: 171, axisW: 20, padTop: 1, padRight: 3, xmax: 13980, wEs: 71, wHits: 28, wRank: 44,
    esMin: -0.609, esMax: 0.036, esTicks: es1Ticks, hitLen: 11, stripH: 6, esX: es1X, esY: es1Y, hits: hits1,
    posX: 67, posY: 773, negX: 153, negY: 813, zeroX: 108, zeroY: 794, lgX: 43, lgY: 833, lgW: 136});
gsea({left: 219, top: 671, width: 193, height: 171, axisW: 20, padTop: 1, padRight: 2, xmax: 13615, wEs: 71, wHits: 28, wRank: 44,
    esMin: -0.66, esMax: 0.04, esTicks: es2Ticks, hitLen: 11, stripH: 6, esX: es2X, esY: es2Y, hits: hits2,
    posX: 271, posY: 773, negX: 359, negY: 815, zeroX: 312, zeroY: 795, lgX: 247, lgY: 833, lgW: 138});
gsea({left: 17, top: 875, width: 196, height: 172, axisW: 20, padTop: 3, padRight: 1, xmax: 14110, wEs: 70, wHits: 28, wRank: 44,
    esMin: -0.565, esMax: 0.196, esTicks: es3Ticks, hitLen: 11.5, stripH: 5, esX: es3X, esY: es3Y, hits: hits3,
    posX: 69, posY: 978, negX: 156, negY: 1019, zeroX: 106, zeroY: 999, lgX: 44, lgY: 1038, lgW: 138});
gsea({left: 218, top: 875, width: 195, height: 172, axisW: 20, padTop: 3, padRight: 1, xmax: 14030, wEs: 70, wHits: 28, wRank: 44,
    esMin: -0.558, esMax: 0.025, esTicks: es4Ticks, hitLen: 11.5, stripH: 5, esX: es4X, esY: es4Y, hits: hits4,
    posX: 269, posY: 978, negX: 357, negY: 1019, zeroX: 310, zeroY: 999, lgX: 246, lgY: 1038, lgW: 136});

txt('C', 15, 645, bold(22));
txt('MAF9_BOUND HUMAN (BERNT)', 114, 661, bold(11.2));
txt('TARGET OF MLL-CBP FUSION (WANG)', 314, 661, bold(11.2));
txt('GRANULOCYTE (CHAMBER)', 121, 866, bold(11.2));
txt('ESC-like genes( Ben-Porath)', 318, 866, bold(11.2));
const nes = 'color:#111;font-size:13px;transform:translateY(-50%);';
txt('NES= -1.87', 46, 717, nes);
txt('FDR= 0.0086', 48, 734, nes);
txt('NES= -1.69', 254, 711, nes);
txt('FDR= 0.046', 253, 727, nes);
txt('NES= -1.58', 43, 922, nes);
txt('FDR= 0.105', 43, 936, nes);
txt('NES= -1.96', 250, 924, nes);
txt('FDR= 0.003', 248, 940, nes);

// ---- heat maps (panels D and F), one stacked bar per gene
function heat(x, y, w, h, labelW, genes, cols, tickFont, tickColor, tickPad) {
    new Chart(panel(x, y, w + labelW, h), {
        type: 'bar',
        data: {
            labels: genes,
            datasets: cols.map(col => ({
                data: genes.map(() => 1),
                backgroundColor: genes.map((g, i) => heatColor(col[i])),
                borderWidth: 0,
                inflateAmount: 0.7,
                barPercentage: 1,
                categoryPercentage: 1
            }))
        },
        options: {
            indexAxis: 'y',
            layout: {padding: 0},
            scales: {
                x: {display: false, stacked: true, min: 0, max: cols.length},
                y: {position: 'right', stacked: true, afterFit: fitW(labelW), grid: {display: false, drawTicks: false}, border: {display: false},
                    ticks: {autoSkip: false, padding: tickPad, color: tickColor, font: tickFont}}
            }
        }
    });
}

heat(468, 66, 119, 212, 46, d1Genes, [d1A, d1B, d1C, d1D], {size: 10.5, weight: 'bold'}, '#111', 2);
heat(639, 66, 120, 213, 46, d2Genes, [d2A, d2B, d2C, d2D], {size: 10.5, weight: 'bold'}, '#111', 2);
heat(467, 720, 129, 294, 30, f1Genes, [f1A, f1B, f1C, f1D], {size: 3.5}, '#666', 5);
heat(651, 720, 131, 291, 30, f2Genes, [f2A, f2B, f2C, f2D], {size: 3.5}, '#666', 3);

function heatHeader(c1, c2, ySub, nums, yNum, title, tx, ty) {
    txt(title, tx, ty, bold(16));
    txt('PRDM16', c1, ySub, plain(14.6) + 'text-decoration:underline;');
    txt('PRDM16mut', c2, ySub, plain(14.6) + 'text-decoration:underline;');
    ['1', '2', '1', '2'].forEach((n, i) => txt(n, nums[i], yNum, plain(14.5)));
}
heatHeader(494, 570, 37, [479, 511, 543, 573], 57, 'MLL-AF9', 529, 13);
heatHeader(668, 745, 37, [650, 683, 717, 749], 55, 'E2A-HLF', 701, 14);
heatHeader(497, 575, 693, [485, 516, 548, 578], 712, 'MLL-AF9', 533, 668);
heatHeader(682, 758, 693, [668, 699, 732, 762], 712, 'E2A-HLF', 718, 668);

box(498, 282, 48, 9, 'background:' + rampCss);
box(681, 283, 48, 10, 'background:' + rampCss);
box(504, 1021, 67, 10, 'background:' + rampCss);
box(694, 1019, 62, 11, 'background:' + rampCss);
txt('-1.2', 491, 298, bold(10.5));
txt('log10', 524, 303, plain(14.5));
txt('1.2', 553, 298, bold(10.5));
txt('-1.2', 671, 299, bold(10.5));
txt('log10', 705, 304, plain(14.5));
txt('1.2', 733, 299, bold(10.5));
const serif = 'font-family:\'Liberation Serif\',serif;font-size:9.5px;font-weight:bold;';
txt('-1.2', 501, 1041, serif);
txt('log10', 538, 1039, plain(15));
txt('1.2', 571, 1041, serif);
txt('-1.2', 697, 1041, serif);
txt('log10', 727, 1039, plain(15));
txt('1.2', 758, 1041, serif);
txt('D', 442, 10, bold(22));
txt('F', 441, 645, bold(22));

// GFI1b callouts
function arrow(x, y) {
    const d = box(x, y - 5, 13, 10, 'background:#111;clip-path:polygon(0 50%,50% 0,50% 28%,100% 28%,100% 72%,50% 72%,50% 100%);');
    return d;
}
arrow(603, 763);
arrow(789, 814);
txt('GFI1b', 633, 763, bold(13) + 'color:#ee1c25;');
txt('GFI1b', 819, 814, bold(13) + 'color:#ee1c25;');

// ---- panel E
const errorBars = {
    id: 'errorBars',
    afterDatasetsDraw(chart) {
        const ctx = chart.ctx, y = chart.scales.y;
        ctx.save();
        ctx.strokeStyle = '#111';
        ctx.lineWidth = 1;
        chart.data.datasets.forEach((ds, i) => {
            chart.getDatasetMeta(i).data.forEach((bar, j) => {
                const hi = y.getPixelForValue(ds.data[j] + ds.err[j]);
                const lo = y.getPixelForValue(ds.data[j] - ds.err[j]);
                ctx.beginPath();
                ctx.moveTo(bar.x, hi); ctx.lineTo(bar.x, lo);
                ctx.moveTo(bar.x - 4, hi); ctx.lineTo(bar.x + 4, hi);
                ctx.moveTo(bar.x - 4, lo); ctx.lineTo(bar.x + 4, lo);
                ctx.stroke();
            });
        });
        ctx.restore();
    }
};
new Chart(panel(460, 395, 310, 197), {
    type: 'bar',
    plugins: [errorBars],
    data: {
        labels: chipGenes,
        datasets: [
            {label: 'Control', data: chipControl, err: chipControlErr, backgroundColor: '#000'},
            {label: 'PRDM16', data: chipWt, err: chipWtErr, backgroundColor: '#888'},
            {label: 'PRDM16mut', data: chipMut, err: chipMutErr, backgroundColor: '#d3d3d3'}
        ]
    },
    options: {
        layout: {padding: {top: 7, right: 4}},
        datasets: {bar: {barPercentage: 1, categoryPercentage: 0.68}},
        scales: {
            x: {afterFit: fitH(39), grid: {display: true, drawOnChartArea: false, color: '#000', tickLength: 5, lineWidth: 1.5}, border: {color: '#000', width: 2},
                ticks: {color: '#222', padding: 7, font: {size: 14}}},
            y: {min: 0, max: 0.5, afterFit: fitW(49), afterBuildTicks: useTicks(chipTicks), grid: {drawOnChartArea: false, color: '#000', tickLength: 4, lineWidth: 1.5}, border: {color: '#000', width: 2},
                ticks: {padding: 4, color: '#111', font: {size: 14.5}, callback: v => v === 0 ? '0' : v.toFixed(1)}}
        }
    }
});
txt('E', 447, 367, bold(22));
txt('HA-PRDM16 CHIP', 635, 397, bold(15.5));
txt('% Input', 457, 483, plain(16) + vert);
box(539, 438, 11, 10, 'background:#000');
box(539, 457, 11, 10, 'background:#888');
box(539, 477, 11, 10, 'background:#d9d9d9');
const legendText = 'font-size:14px;transform:translateY(-50%);color:#222;';
txt('Control', 558, 441, legendText);
txt('PRDM16', 559, 460, legendText);
txt('PRDM16mut', 560, 479, legendText);
</script>
</body>
</html>
